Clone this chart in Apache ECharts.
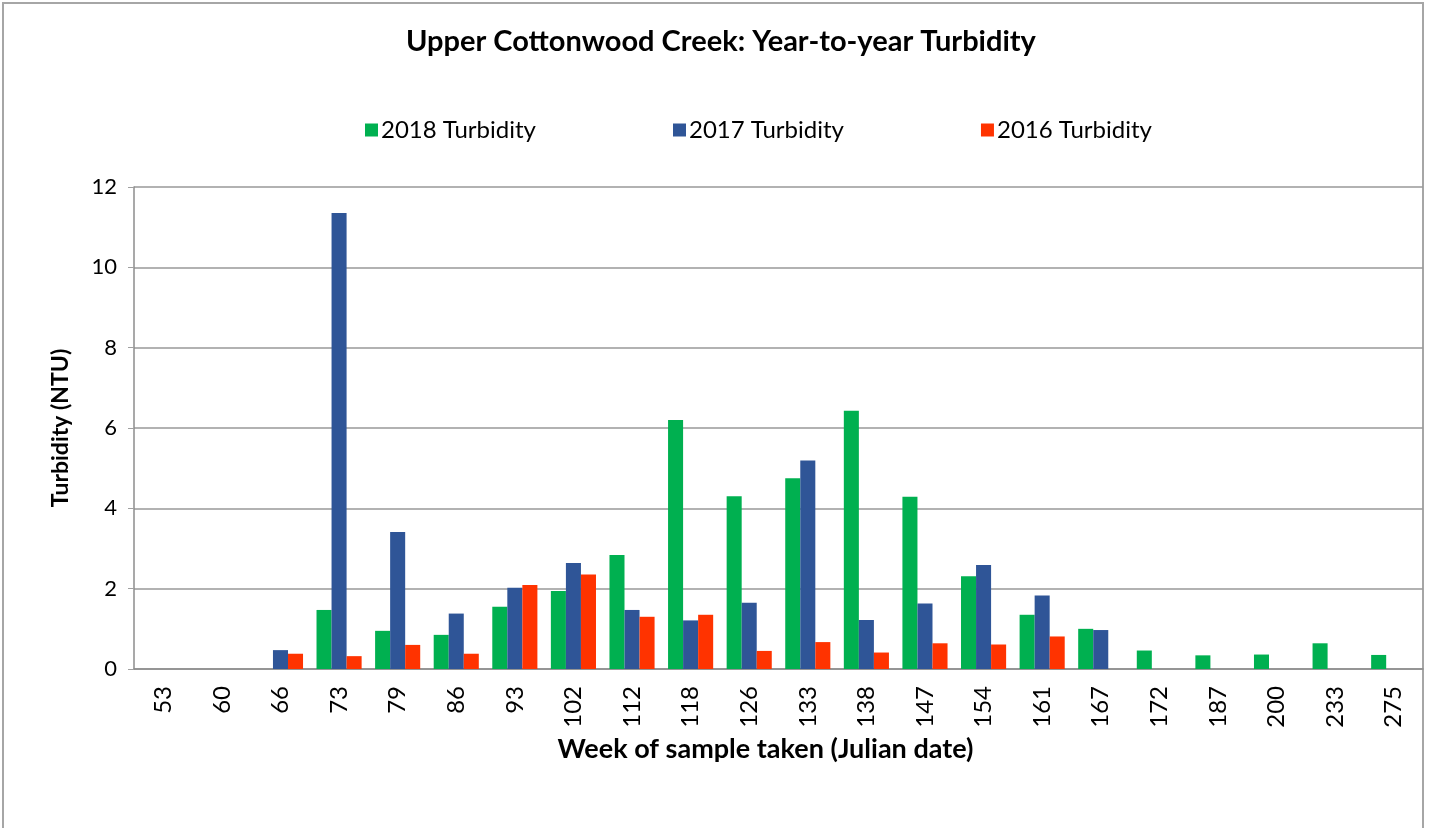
<!DOCTYPE html>
<html>
<head>
<meta charset="utf-8">
<script src="https://cdn.jsdelivr.net/npm/echarts@6/dist/echarts.min.js"></script>
<style>
  html, body { margin: 0; padding: 0; background: #fff; }
  #chart { width: 1431px; height: 828px; }
</style>
</head>
<body>
<div id="chart"></div>
<script>
  // x axis: week of sample (Julian date)
  const weeks = ['53', '60', '66', '73', '79', '86', '93', '102', '112', '118', '126',
    '133', '138', '147', '154', '161', '167', '172', '187', '200', '233', '275']

  // turbidity (NTU) per year, '-' where no sample
  const turb2018 = ['-', '-', '-', 1.47, 0.95, 0.85, 1.55, 1.94, 2.84, 6.2, 4.3,
    4.75, 6.43, 4.29, 2.31, 1.35, 1.0, 0.46, 0.34, 0.36, 0.64, 0.35]
  const turb2017 = ['-', '-', 0.47, 11.35, 3.41, 1.38, 2.02, 2.64, 1.47, 1.21, 1.65,
    5.19, 1.22, 1.63, 2.59, 1.83, 0.97, '-', '-', '-', '-', '-']
  const turb2016 = ['-', '-', 0.38, 0.32, 0.6, 0.38, 2.09, 2.35, 1.3, 1.35, 0.45,
    0.67, 0.41, 0.64, 0.61, 0.81, '-', '-', '-', '-', '-', '-']

  const font = 'Lato, "DejaVu Sans", sans-serif'
  const chart = echarts.init(document.getElementById('chart'))

  chart.setOption({
    animation: false,
    textStyle: { fontFamily: font, color: '#000' },
    title: {
      text: 'Upper Cottonwood Creek: Year-to-year Turbidity',
      left: 406,
      top: 27,
      padding: 0,
      textStyle: { fontFamily: font, fontSize: 29, fontWeight: 'bold', color: '#000' }
    },
    legend: {
      top: 113,
      left: 360,
      itemGap: 137,
      itemWidth: 13,
      itemHeight: 13,
      icon: 'rect',
      textStyle: { fontFamily: font, fontSize: 24, color: '#000', padding: [0, 0, 0, -2] },
      data: ['2018 Turbidity', '2017 Turbidity', '2016 Turbidity']
    },
    grid: { left: 134, right: 8, top: 187, bottom: 159 },
    xAxis: {
      type: 'category',
      data: weeks,
      name: 'Week of sample taken (Julian date)',
      nameLocation: 'middle',
      nameGap: 67,
      nameTextStyle: { fontFamily: font, fontSize: 27, fontWeight: 'bold', color: '#000', padding: [0, 26, 0, 0] },
      axisLine: { lineStyle: { color: '#8c8c8c', width: 1.5 } },
      axisTick: { length: 7, lineStyle: { color: '#a0a0a0', width: 1 } },
      axisLabel: { rotate: 90, fontSize: 24, color: '#000', margin: 17 }
    },
    yAxis: {
      type: 'value',
      min: 0,
      max: 12,
      interval: 2,
      name: 'Turbidity (NTU)',
      nameLocation: 'middle',
      nameGap: 62,
      nameTextStyle: { fontFamily: font, fontSize: 23, fontWeight: 'bold', color: '#000' },
      axisLine: { show: true, lineStyle: { color: '#8c8c8c', width: 1.5 } },
      axisTick: { show: true, length: 6, lineStyle: { color: '#a0a0a0', width: 1 } },
      axisLabel: { fontSize: 22, color: '#000', margin: 17 },
      splitLine: { lineStyle: { color: '#999', width: 1.5 } }
    },
    graphic: [{
      type: 'rect',
      shape: { x: 3, y: 3, width: 1420, height: 840 },
      style: { fill: 'none', stroke: '#a6a6a6', lineWidth: 2 },
      silent: true
    }],
    series: [
      {
        name: '2018 Turbidity',
        type: 'bar',
        barGap: '0%',
        barCategoryGap: '23%',
        itemStyle: { color: '#00b050' },
        data: turb2018
      },
      {
        name: '2017 Turbidity',
        type: 'bar',
        barGap: '0%',
        barCategoryGap: '23%',
        itemStyle: { color: '#2f5597' },
        data: turb2017
      },
      {
        name: '2016 Turbidity',
        type: 'bar',
        barGap: '0%',
        barCategoryGap: '23%',
        itemStyle: { color: '#ff3300' },
        data: turb2016
      }
    ]
  })
</script>
</body>
</html>
